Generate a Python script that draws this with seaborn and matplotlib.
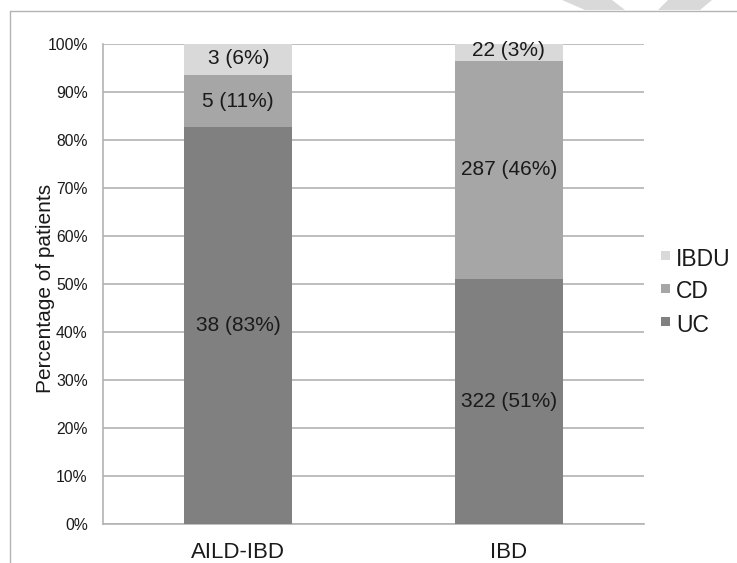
import matplotlib
matplotlib.use("Agg")
import matplotlib.pyplot as plt
import pandas as pd
import seaborn as sns
from matplotlib.patches import Polygon, Rectangle
from matplotlib.lines import Line2D
from matplotlib.ticker import PercentFormatter

# Dati
groups = ["AILD-IBD", "IBD"]
uc = [38, 322]
cd = [5, 287]
ibdu = [3, 22]
uc_pct = ["83%", "51%"]
cd_pct = ["11%", "46%"]
ibdu_pct = ["6%", "3%"]
legend_names = ["IBDU", "CD", "UC"]

colors = {"UC": "#808080", "CD": "#a6a6a6", "IBDU": "#d9d9d9"}
text_color = "#1a1a1a"
line_color = "#b3b3b3"

df = pd.DataFrame({"group": groups, "UC": uc, "CD": cd, "IBDU": ibdu})
df["total"] = df["UC"] + df["CD"] + df["IBDU"]
df["uc_h"] = df["UC"] / df["total"] * 100
df["cd_h"] = (df["UC"] + df["CD"]) / df["total"] * 100
df["all_h"] = 100.0

sns.set_style("white")
plt.rcParams["font.family"] = ["Liberation Sans", "DejaVu Sans"]

W, H = 737, 563
fig = plt.figure(figsize=(W / 100, H / 100), dpi=100, facecolor="white")
ax = fig.add_axes([103 / W, 39 / H, 541 / W, 480 / H])

# Barre cumulative disegnate dall'alto verso il basso
for col, name in [("all_h", "IBDU"), ("cd_h", "CD"), ("uc_h", "UC")]:
    sns.barplot(data=df, x="group", y=col, color=colors[name], width=0.4,
                saturation=1, linewidth=0, ax=ax, zorder=3)

# Etichette dentro le barre
for i in range(len(groups)):
    u = df.loc[i, "uc_h"]
    c = df.loc[i, "cd_h"]
    ax.text(i, u / 2, f"{uc[i]} ({uc_pct[i]})", ha="center", va="center",
            fontsize=15, color=text_color, zorder=4)
    ax.text(i, (u + c) / 2, f"{cd[i]} ({cd_pct[i]})", ha="center", va="center",
            fontsize=15, color=text_color, zorder=4)
    ax.text(i, (c + 100) / 2 + 0.3, f"{ibdu[i]} ({ibdu_pct[i]})", ha="center", va="center",
            fontsize=15, color=text_color, zorder=4)

ax.set_xlim(-0.5, 1.5)
ax.set_ylim(0, 100)
ax.set_yticks(range(0, 101, 10))
ax.yaxis.set_major_formatter(PercentFormatter(decimals=0))
ax.grid(axis="y", color=line_color, linewidth=1.2, zorder=0)
ax.set_axisbelow(True)

for s in ["top", "right"]:
    ax.spines[s].set_visible(False)
for s in ["left", "bottom"]:
    ax.spines[s].set_color(line_color)
    ax.spines[s].set_linewidth(1.2)

ax.set_xticks([-0.5, 0.5, 1.5], minor=True)
ax.tick_params(axis="x", which="minor", length=4, color=line_color, width=1.2)
ax.tick_params(axis="x", which="major", length=0, labelsize=16, pad=13, colors=text_color)
ax.tick_params(axis="y", length=4, color=line_color, width=1.2, labelsize=11.3,
               pad=7, colors=text_color)
ax.set_xlabel("")
ax.set_ylabel("Percentage of patients", fontsize=15, color=text_color)
ax.yaxis.set_label_coords((55 - 103) / 541, (524 - 288) / 480)

# Legenda (quadratini allineati in alto come nell'originale)
leg_y = [259, 292, 325]
for name, yc in zip(legend_names, leg_y):
    fig.add_artist(Rectangle((661 / W, 1 - (yc + 1) / H), 9 / W, 9 / H,
                             transform=fig.transFigure, facecolor=colors[name],
                             edgecolor="none"))
    fig.text(676 / W, 1 - yc / H, name, ha="left", va="center",
             fontsize=16.5, color=text_color)

# Cornice della pagina
fig.add_artist(Line2D([10 / W, 1], [1 - 11 / H, 1 - 11 / H],
                      transform=fig.transFigure, color=line_color, linewidth=1))
fig.add_artist(Line2D([10 / W, 10 / W], [0, 1 - 11 / H],
                      transform=fig.transFigure, color=line_color, linewidth=1))

# Filigrana in alto a destra
def px(x, y):
    return (x / W, 1 - y / H)

for pts in [[(562, 0), (612, 0), (625, 10), (585, 10)],
            [(668, 0), (712, 0), (700, 10), (658, 10)]]:
    fig.add_artist(Polygon([px(*p) for p in pts], closed=True, transform=fig.transFigure,
                           facecolor="#d9d9d9", edgecolor="none"))

fig.savefig("out.png", dpi=100, facecolor="white")
